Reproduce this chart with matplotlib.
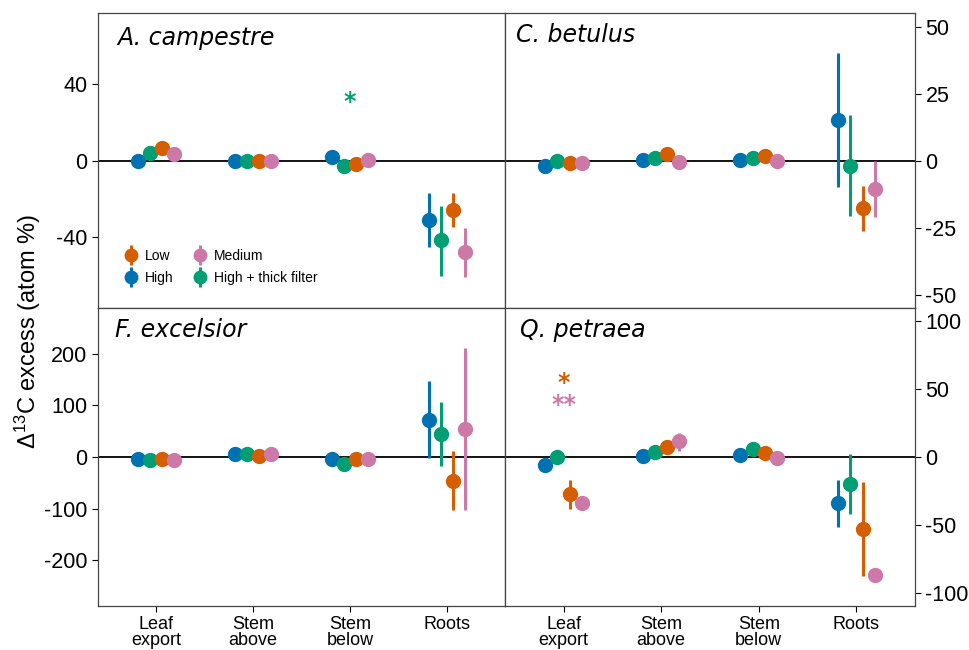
import numpy as np
import matplotlib.pyplot as plt
from matplotlib.container import ErrorbarContainer
from matplotlib.legend_handler import HandlerErrorbar

plt.rcParams['font.family'] = ['Liberation Sans', 'DejaVu Sans']
plt.rcParams['axes.unicode_minus'] = False
plt.rcParams['mathtext.fontset'] = 'custom'
plt.rcParams['mathtext.rm'] = 'Liberation Sans'
plt.rcParams['mathtext.it'] = 'Liberation Sans:italic'

nan = np.nan

# categorias e grupos
categories = ["Leaf\nexport", "Stem\nabove", "Stem\nbelow", "Roots"]
groups = ["High", "High + thick filter", "Low", "Medium"]
colors = ["#0072B2", "#009E73", "#D55E00", "#CC79A7"]
species = ["A. campestre", "C. betulus", "F. excelsior", "Q. petraea"]

# médias: linhas = grupos, colunas = categorias
campestre_mean = [[0.0, 0.0, 1.9, -30.8],
                  [3.9, 0.0, -2.6, -41.4],
                  [6.6, 0.0, -1.6, -25.7],
                  [3.5, 0.0, 0.5, -47.8]]
campestre_low = [[nan, nan, nan, -44.9],
                 [nan, nan, nan, -60.0],
                 [nan, nan, nan, -34.7],
                 [nan, nan, nan, -60.8]]
campestre_high = [[nan, nan, nan, -16.7],
                  [nan, nan, nan, -23.5],
                  [nan, nan, nan, -17.0],
                  [nan, nan, nan, -35.1]]

betulus_mean = [[-1.9, 0.3, 0.3, 15.1],
                [0.0, 1.0, 1.0, -1.9],
                [-0.9, 2.4, 1.7, -17.8],
                [-1.0, -0.7, -0.3, -10.6]]
betulus_low = [[nan, nan, nan, -9.7],
               [nan, nan, nan, -20.7],
               [nan, nan, nan, -26.2],
               [nan, nan, nan, -21.1]]
betulus_high = [[nan, nan, nan, 40.2],
                [nan, nan, nan, 16.9],
                [nan, nan, nan, -9.6],
                [nan, nan, nan, 0.0]]

excelsior_mean = [[-4.6, 5.0, -4.6, 72.0],
                  [-6.5, 6.3, -12.8, 44.6],
                  [-3.3, 1.9, -4.6, -46.0],
                  [-5.2, 5.7, -4.6, 54.8]]
excelsior_low = [[nan, nan, nan, -2.7],
                 [nan, nan, nan, -18.0],
                 [nan, nan, nan, -102.0],
                 [nan, nan, nan, -102.0]]
excelsior_high = [[nan, nan, nan, 147.5],
                  [nan, nan, nan, 106.5],
                  [nan, nan, nan, 10.7],
                  [nan, nan, nan, 210.7]]

petraea_mean = [[-5.6, 0.7, 1.2, -34.0],
                [0.2, 3.4, 6.0, -19.5],
                [-27.5, 7.5, 3.1, -53.0],
                [-33.5, 11.4, -0.5, -87.0]]
petraea_low = [[nan, nan, nan, -51.5],
               [nan, nan, nan, -41.8],
               [-38.2, nan, nan, -87.8],
               [nan, 4.6, nan, nan]]
petraea_high = [[nan, nan, nan, -17.0],
                [nan, nan, nan, 1.9],
                [-17.0, nan, nan, -18.7],
                [nan, 17.9, nan, nan]]

ylims = [77, 55, 288, 109.5]
yticks = [[-40, 0, 40], [-50, -25, 0, 25, 50],
          [-200, -100, 0, 100, 200], [-100, -50, 0, 50, 100]]

# asteriscos: (painel, categoria, valor, texto, cor do grupo)
stars = [(0, 2, 30.4, "*", 1), (3, 0, 54.7, "*", 2), (3, 0, 38.2, "**", 3)]

means = [campestre_mean, betulus_mean, excelsior_mean, petraea_mean]
lows = [campestre_low, betulus_low, excelsior_low, petraea_low]
highs = [campestre_high, betulus_high, excelsior_high, petraea_high]

fig = plt.figure(figsize=(9.7, 6.5), dpi=100)
ax_tl = fig.add_axes([0.101, 0.526, 0.4196, 0.4538])
ax_tr = fig.add_axes([0.5206, 0.526, 0.4227, 0.4538])
ax_bl = fig.add_axes([0.101, 0.0677, 0.4196, 0.4585])
ax_br = fig.add_axes([0.5206, 0.0677, 0.4227, 0.4585])
axes = [ax_tl, ax_tr, ax_bl, ax_br]
title_pos = [(0.047, 0.892), (0.027, 0.902), (0.042, 0.904), (0.037, 0.902)]

x = np.arange(1, len(categories) + 1)
dodge = [-0.1875, -0.0625, 0.0625, 0.1875]

handles = []
for p, ax in enumerate(axes):
    ax.axhline(0, color='black', lw=1.3, zorder=1)
    m = np.array(means[p])
    lo = np.array(lows[p])
    hi = np.array(highs[p])
    err_lo = np.nan_to_num(m - lo)
    err_hi = np.nan_to_num(hi - m)
    cont = []
    for g in range(len(groups)):
        c = ax.errorbar(x + dodge[g], m[g], yerr=[err_lo[g], err_hi[g]],
                        fmt='o', color=colors[g], ms=10, elinewidth=2.2,
                        capsize=0, label=groups[g], zorder=3)
        cont.append(c)
    if p == 0:
        handles = cont

    ax.set_xlim(0.4, 4.6)
    ax.set_ylim(-ylims[p], ylims[p])
    ax.set_yticks(yticks[p])
    ax.set_xticks(x)
    ax.set_xticklabels(categories, fontsize=13, linespacing=0.92)
    ax.tick_params(axis='y', labelsize=15.5, length=4, width=0.8)
    ax.tick_params(axis='x', length=4, width=0.8, pad=3)
    if p in (1, 3):
        ax.yaxis.tick_right()
    if p in (0, 1):
        ax.tick_params(axis='x', bottom=False, labelbottom=False)
    for s in ax.spines.values():
        s.set_color('#444444')
        s.set_linewidth(0.9)

    tx, ty = title_pos[p]
    ax.text(tx, ty, species[p], transform=ax.transAxes, fontsize=17,
            style='italic', family='DejaVu Sans', va='baseline', ha='left')

for p, cat, val, txt, g in stars:
    axes[p].text(x[cat], val, txt, color=colors[g], fontsize=17,
                 family='DejaVu Sans', weight='bold', ha='center', va='center')

# legenda: Low, High / Medium, High + thick filter
order = [2, 0, 3, 1]
ax_tl.legend([handles[i] for i in order], [groups[i] for i in order],
             ncol=2, loc='lower left', bbox_to_anchor=(0.05, 0.06),
             frameon=False, fontsize=10, markerscale=0.9, handlelength=1.0,
             handletextpad=0.5, columnspacing=1.4, labelspacing=0.6,
             borderaxespad=0,
             handler_map={ErrorbarContainer: HandlerErrorbar(yerr_size=0.72)})

fig.text(0.029, 0.49, r"$\Delta^{13}$C excess (atom %)", rotation=90,
         va='center', ha='center', fontsize=17)

plt.savefig("out.png", dpi=100)
